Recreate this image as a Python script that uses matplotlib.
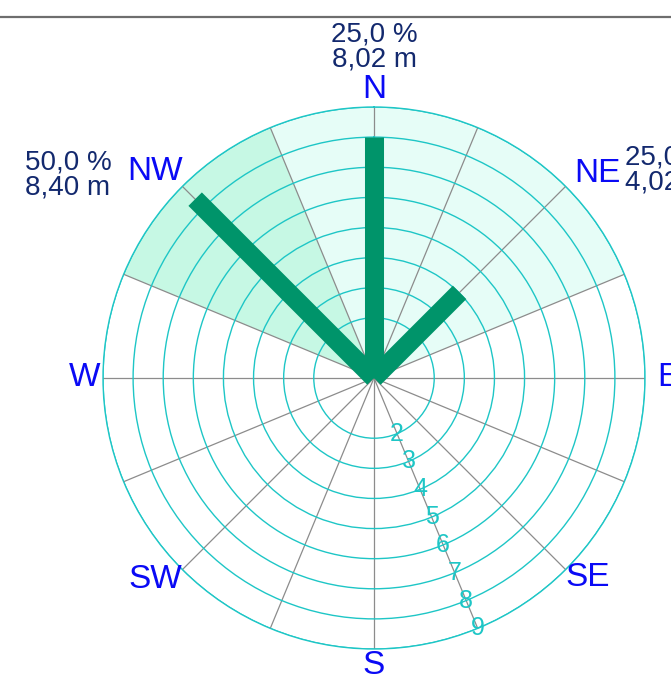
"""Wind rose: frequency and mean height per direction sector."""

import numpy as np
import matplotlib.pyplot as plt
from matplotlib.lines import Line2D

plt.rcParams["font.family"] = ["Liberation Sans", "DejaVu Sans"]

# ── Data ──────────────────────────────────────────────────────────────────────
DIRECTIONS = ["N", "NE", "E", "SE", "S", "SW", "W", "NW"]
BEARINGS   = [0, 45, 90, 135, 180, 225, 270, 315]
FREQ_PCT   = [25.0, 25.0, 0.0, 0.0, 0.0, 0.0, 0.0, 50.0]
HEIGHT_M   = [8.02, 4.02, 0.0, 0.0, 0.0, 0.0, 0.0, 8.40]
RING_TICKS = [2, 3, 4, 5, 6, 7, 8, 9]
R_MAX      = 9

# ── Style ─────────────────────────────────────────────────────────────────────
BAR    = "#00946A"
RING   = "#1EC6C6"
SPOKE  = "#8C8C8C"
BLUE   = "#0A0AF5"
NAVY   = "#13296E"
SHADE  = {25.0: "#E6FDF7", 50.0: "#C6F8E4"}

# label offsets from the rose centre, in pixels
DIR_OFFSET = {
    "N": (0, 289), "NE": (223, 205), "E": (294, 1), "SE": (214, -200),
    "S": (0, -287), "SW": (-219, -202), "W": (-289, 0), "NW": (-219, 206),
}
INFO_OFFSET = {
    "N": (0, 331, "center"), "NE": (251, 208, "left"), "NW": (-262, 203, "right"),
}

fig = plt.figure(figsize=(6.71, 6.96), dpi=100)
fig.patch.set_facecolor("white")
ax = fig.add_axes([103 / 671, 47 / 696, 542 / 671, 542 / 696], projection="polar")
ax.set_theta_zero_location("N")
ax.set_theta_direction(-1)
ax.set_ylim(0, R_MAX)
ax.set_facecolor("white")

# sector shading
for b, p in zip(BEARINGS, FREQ_PCT):
    if p > 0:
        ax.bar(np.deg2rad(b), R_MAX, width=np.deg2rad(45), bottom=0,
               color=SHADE[p], edgecolor="none", zorder=0)

# grid: rings and 16 spokes
ax.set_yticks(RING_TICKS)
ax.set_yticklabels([])
ax.set_xticks(np.deg2rad(np.arange(0, 360, 22.5)))
ax.set_xticklabels([])
ax.xaxis.grid(True, color=SPOKE, lw=0.9)
ax.yaxis.grid(True, color=RING, lw=1.0)
ax.spines["polar"].set_color(RING)
ax.spines["polar"].set_linewidth(1.0)
ax.set_axisbelow(False)
for gl in ax.xaxis.get_gridlines() + ax.yaxis.get_gridlines():
    gl.set_zorder(1)

# bars as thick rays
for b, h in zip(BEARINGS, HEIGHT_M):
    if h > 0:
        t = np.deg2rad(b)
        ax.plot([t, t], [0, h], color=BAR, lw=13.7, solid_capstyle="butt", zorder=3)

# ring labels along the SSE spoke
for v in RING_TICKS:
    ax.text(np.deg2rad(157.5), v, str(v), color=RING, fontsize=18,
            ha="center", va="center", zorder=4)

# direction labels
for d in DIRECTIONS:
    dx, dy = DIR_OFFSET[d]
    ax.annotate(d, xy=(0, 0), xytext=(dx, dy), textcoords="offset pixels",
                ha="center", va="center", fontsize=24, color=BLUE,
                annotation_clip=False)

# frequency / height annotations
for d, p, h in zip(DIRECTIONS, FREQ_PCT, HEIGHT_M):
    if p > 0:
        dx, dy, ha = INFO_OFFSET[d]
        txt = f"{p:.1f} %\n{h:.2f} m".replace(".", ",")
        ax.annotate(txt, xy=(0, 0), xytext=(dx, dy), textcoords="offset pixels",
                    ha=ha, va="center", ma="left" if ha != "center" else "center",
                    fontsize=20, color=NAVY, linespacing=0.95,
                    annotation_clip=False)

# header rule
fig.add_artist(Line2D([0, 1], [1 - 17 / 696] * 2, color="#6E6E6E", lw=1.6,
                      transform=fig.transFigure))

fig.savefig("out.png", dpi=100, facecolor="white")
